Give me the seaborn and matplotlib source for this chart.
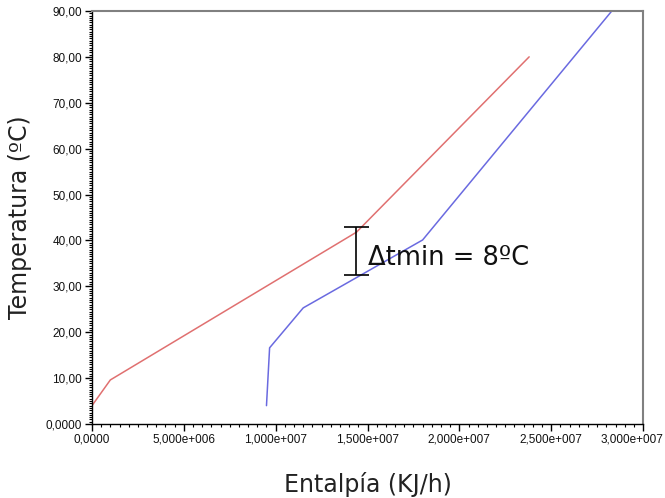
import matplotlib
matplotlib.use("Agg")
import matplotlib.pyplot as plt
import matplotlib.ticker as mticker
import pandas as pd
import seaborn as sns

# hot stream (red) and cold stream (blue) composite curves
hot_h = [0.0, 1.0e6, 1.44e7, 2.38e7]
hot_t = [4.0, 9.6, 41.8, 80.0]
cold_h = [9.5e6, 9.67e6, 1.15e7, 1.8e7, 2.83e7]
cold_t = [4.0, 16.6, 25.3, 40.1, 90.0]

# minimum temperature approach bracket
dt_h = 1.44e7
dt_low = 32.5
dt_high = 42.9
dt_text = "\u0394tmin = 8\u00baC"

x_ticks = [0, 5e6, 1e7, 1.5e7, 2e7, 2.5e7, 3e7]
x_labels = ["0,0000", "5,000e+006", "1,000e+007", "1,500e+007",
            "2,000e+007", "2,500e+007", "3,000e+007"]
y_ticks = [0, 10, 20, 30, 40, 50, 60, 70, 80, 90]
y_labels = ["0,0000", "10,00", "20,00", "30,00", "40,00", "50,00",
            "60,00", "70,00", "80,00", "90,00"]

sns.set_style("ticks")
plt.rcParams['font.family'] = ['DejaVu Sans']

hot = pd.DataFrame({"h": hot_h, "t": hot_t})
cold = pd.DataFrame({"h": cold_h, "t": cold_t})

fig = plt.figure(figsize=(6.65, 4.98), dpi=100)
ax = fig.add_axes([0.1383, 0.1486, 0.8287, 0.8294])

sns.lineplot(data=hot, x="h", y="t", sort=False, color="#e07070", lw=1.1, ax=ax)
sns.lineplot(data=cold, x="h", y="t", sort=False, color="#6a6ae0", lw=1.1, ax=ax)

ax.errorbar([dt_h], [(dt_low + dt_high) / 2], yerr=[(dt_high - dt_low) / 2],
            fmt="none", ecolor="black", elinewidth=1.2, capsize=9, capthick=1.2)
ax.text(dt_h + 0.06e7, (dt_low + dt_high) / 2 - 1.5, dt_text, fontsize=18.5,
        va="center", ha="left", color="#111111")

ax.set_xlim(0, 3e7)
ax.set_ylim(0, 90)
ax.set_xticks(x_ticks)
# last label is drawn separately so it stays inside the figure
ax.set_xticklabels(x_labels[:-1] + [""])
ax.set_yticks(y_ticks)
ax.set_yticklabels(y_labels)
ax.xaxis.set_minor_locator(mticker.MultipleLocator(5e5))
ax.yaxis.set_minor_locator(mticker.MultipleLocator(0.5))

tick_font = ['Liberation Sans Narrow', 'Liberation Sans']
for lab in ax.get_xticklabels() + ax.get_yticklabels():
    lab.set_family(tick_font)
    lab.set_fontsize(8.5)
    lab.set_color("#111111")

ax.annotate(x_labels[-1], xy=(x_ticks[-1], 0), xycoords="data",
            xytext=(15, -7), textcoords="offset points",
            ha="right", va="top", family=tick_font, fontsize=8.5,
            color="#111111", annotation_clip=False)

ax.tick_params(which="major", direction="out", length=5, width=1, color="black", pad=2)
ax.tick_params(which="minor", direction="out", length=2.5, width=0.8, color="black")

ax.set_xlabel("Entalpía (KJ/h)", fontsize=17, color="#222222", labelpad=19)
ax.set_ylabel("Temperatura (ºC)", fontsize=17, color="#222222", labelpad=10)

for side in ["left", "bottom"]:
    ax.spines[side].set_color("black")
    ax.spines[side].set_linewidth(1.0)
for side in ["top", "right"]:
    ax.spines[side].set_visible(True)
    ax.spines[side].set_color("#808080")
    ax.spines[side].set_linewidth(1.5)

fig.savefig("out.png", dpi=100)
